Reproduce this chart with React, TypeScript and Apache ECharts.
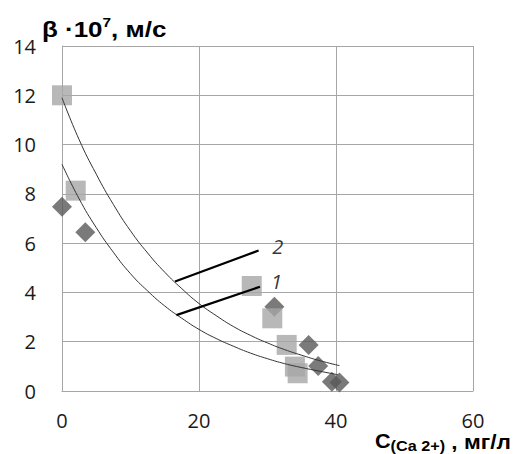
import React, { useEffect, useRef } from "react";
import * as echarts from "echarts";

// Series 2 (light grey squares)
const squaresX = [0, 2.0, 27.7, 30.7, 32.8, 34.0, 34.4];
const squaresY = [12.0, 8.13, 4.26, 2.95, 1.87, 0.99, 0.72];
// Series 1 (dark grey diamonds)
const diamondsX = [0, 3.4, 31.0, 36.0, 37.4, 39.4, 40.5];
const diamondsY = [7.48, 6.44, 3.42, 1.87, 1.01, 0.38, 0.34];

// Trend curves
const curve2X = [0, 2.5, 5, 7.5, 10, 12.5, 15, 17.5, 20, 22.5, 25, 27.5, 30, 32.5, 35, 37.5, 40.5];
const curve2Y = [11.9, 10.2, 8.8, 7.57, 6.5, 5.6, 4.82, 4.15, 3.55, 3.06, 2.62, 2.26, 1.95, 1.68, 1.45, 1.24, 1.03];
const curve1X = [0, 2.5, 5, 7.5, 10, 12.5, 15, 17.5, 20, 22.5, 25, 27.5, 30, 32.5, 35, 37.5, 40.3];
const curve1Y = [9.2, 7.8, 6.63, 5.63, 4.76, 4.06, 3.45, 2.95, 2.5, 2.13, 1.82, 1.54, 1.31, 1.11, 0.95, 0.81, 0.66];

// Leader lines and labels
const leader2X = [16.5, 28.7];
const leader2Y = [4.44, 5.7];
const leader1X = [16.7, 28.9];
const leader1Y = [3.08, 4.23];
const curveLabels = ["2", "1"];
const labelX = [31.5, 31.3];
const labelY = [5.86, 4.44];

const xTicks = [0, 20, 40, 60];
const yTicks = [0, 2, 4, 6, 8, 10, 12, 14];

const zip = (xs: number[], ys: number[]) => xs.map((x, i) => [x, ys[i]]);

export default function App() {
  const ref = useRef<HTMLDivElement>(null);
  useEffect(() => {
    if (!ref.current) return;
    const chart = echarts.init(ref.current, null, { renderer: "svg" });
    const gridColor = "#a6a6a6";
    const tickFont = { fontFamily: "Open Sans", fontSize: 20, color: "#1a1a1a" };
    const bold = { fontFamily: "Liberation Sans", fontWeight: "bold", fill: "#000" };
    chart.setOption({
      animation: false,
      backgroundColor: "#ffffff",
      grid: { left: 62, top: 46, right: 49, bottom: 63, containLabel: false },
      xAxis: {
        type: "value",
        min: xTicks[0],
        max: xTicks[xTicks.length - 1],
        interval: 20,
        axisLine: { show: true, lineStyle: { color: gridColor, width: 1 } },
        axisTick: { show: false },
        splitLine: { show: true, lineStyle: { color: gridColor, width: 1 } },
        axisLabel: { ...tickFont, margin: 19 },
      },
      yAxis: {
        type: "value",
        min: yTicks[0],
        max: yTicks[yTicks.length - 1],
        interval: 2,
        axisLine: { show: true, lineStyle: { color: gridColor, width: 1 } },
        axisTick: { show: false },
        splitLine: { show: true, lineStyle: { color: gridColor, width: 1 } },
        axisLabel: { ...tickFont, margin: 26 },
      },
      graphic: [
        {
          type: "text",
          x: 42,
          y: 16,
          scaleX: 1.18,
          style: {
            text: "{a|β ·10}{s|7}{a|, м/с}",
            rich: {
              a: { ...bold, fontSize: 22, lineHeight: 24, verticalAlign: "bottom" },
              s: { ...bold, fontSize: 13, lineHeight: 14, verticalAlign: "top", padding: [0, 0, 9, 0] },
            },
          },
        },
        {
          type: "text",
          x: 375,
          y: 431,
          scaleX: 1.08,
          style: {
            text: "{c|C}{s|(Ca 2+)}{a| , мг/л}",
            rich: {
              c: { ...bold, fontSize: 20, lineHeight: 21, verticalAlign: "top" },
              s: { ...bold, fontSize: 15, lineHeight: 14, verticalAlign: "top", padding: [7, 0, 0, 0] },
              a: { ...bold, fontSize: 21, lineHeight: 21, verticalAlign: "top" },
            },
          },
        },
      ],
      series: [
        {
          name: "1",
          type: "scatter",
          symbol: "diamond",
          symbolSize: 20,
          itemStyle: { color: "#595959" },
          data: zip(diamondsX, diamondsY),
          z: 2,
        },
        {
          name: "2",
          type: "scatter",
          symbol: "rect",
          symbolSize: 20,
          itemStyle: { color: "#a6a6a6" },
          data: zip(squaresX, squaresY),
          z: 3,
        },
        {
          type: "line",
          smooth: true,
          showSymbol: false,
          symbol: "none",
          lineStyle: { color: "#333", width: 1 },
          data: zip(curve2X, curve2Y),
          z: 4,
        },
        {
          type: "line",
          smooth: true,
          showSymbol: false,
          symbol: "none",
          lineStyle: { color: "#333", width: 1 },
          data: zip(curve1X, curve1Y),
          z: 4,
        },
        {
          type: "line",
          symbol: "none",
          lineStyle: { color: "#000", width: 2.2 },
          data: zip(leader2X, leader2Y),
          z: 5,
        },
        {
          type: "line",
          symbol: "none",
          lineStyle: { color: "#000", width: 2.2 },
          data: zip(leader1X, leader1Y),
          z: 5,
        },
        {
          type: "scatter",
          symbolSize: 0,
          data: curveLabels.map((t, i) => ({ value: [labelX[i], labelY[i]], name: t })),
          label: {
            show: true,
            position: "inside",
            formatter: (p: any) => p.name,
            fontFamily: "Open Sans",
            fontStyle: "italic",
            fontSize: 20,
            color: "#000",
          },
          z: 6,
        },
      ],
    });
    return () => chart.dispose();
  }, []);
  return <div ref={ref} style={{ position: "fixed", left: 0, top: 0, width: 522, height: 454 }} />;
}
